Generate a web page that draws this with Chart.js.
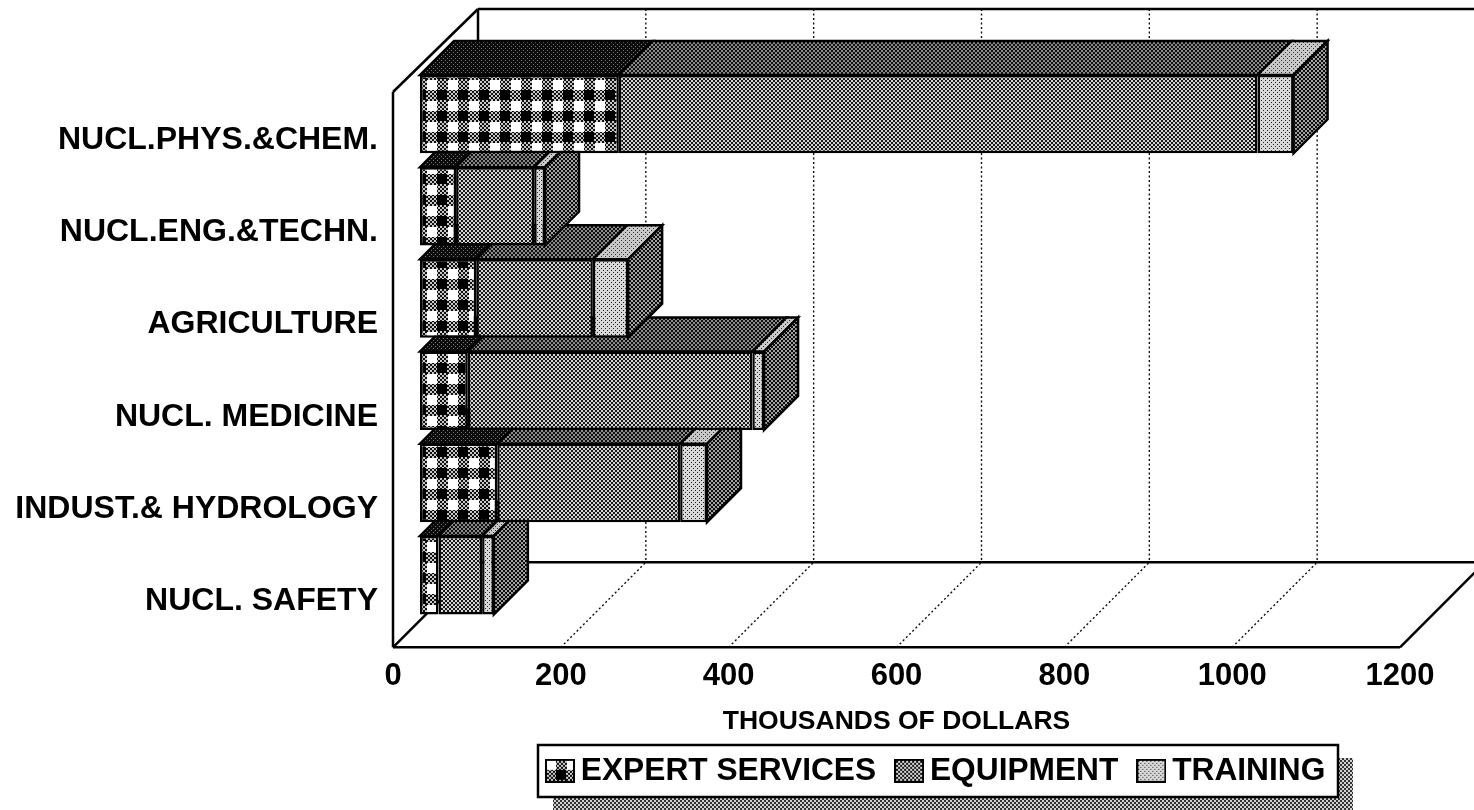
<!DOCTYPE html>
<html>
<head>
<meta charset="utf-8">
<title>Expert services, equipment and training</title>
<script src="https://cdn.jsdelivr.net/npm/chart.js@4"></script>
<style>
  html, body { margin: 0; padding: 0; background: #fff; }
  canvas { display: block; }
</style>
</head>
<body>
<canvas id="chart" width="1474" height="810"></canvas>
<script>
// values, thousands of dollars
const categories = ['NUCL.PHYS.&CHEM.', 'NUCL.ENG.&TECHN.', 'AGRICULTURE', 'NUCL. MEDICINE', 'INDUST.& HYDROLOGY', 'NUCL. SAFETY'];
const expertServices = [237, 43, 67, 57, 92, 22];
const equipment = [761, 93, 139, 339, 218, 52];
const training = [43, 13, 42, 14, 32, 14];
const seriesNames = ['EXPERT SERVICES', 'EQUIPMENT', 'TRAINING'];
const xTickValues = [0, 200, 400, 600, 800, 1000, 1200];
const xTitle = 'THOUSANDS OF DOLLARS';

const FONT = '"Liberation Sans", Arial, sans-serif';
const WALL_DEPTH = 85;   // floor/wall depth of the box
const BAR_SHIFT_X = 27;  // bars stand this far into the box
const BAR_SHIFT_Y = 26;
const BAR_DEPTH = 34;

// small bitmap tile -> canvas
function tile(size, bg, fg, dot, stagger) {
  const c = document.createElement('canvas');
  c.width = c.height = size;
  const g = c.getContext('2d');
  g.fillStyle = bg;
  g.fillRect(0, 0, size, size);
  g.fillStyle = fg;
  g.fillRect(0, 0, dot, dot);
  if (stagger) g.fillRect(size / 2, size / 2, dot, dot);
  return c;
}

// gingham: white / dither / black squares
function ginghamTile() {
  const c = document.createElement('canvas');
  c.width = c.height = 21;
  const g = c.getContext('2d');
  const dither = g.createPattern(tile(4, '#c8c8c8', '#101010', 2, true), 'repeat');
  g.fillStyle = dither;
  g.fillRect(0, 0, 21, 21);
  g.fillStyle = '#fff';
  g.fillRect(1, 1, 10, 10);
  g.fillStyle = '#000';
  g.fillRect(11, 11, 10, 10);
  return c;
}

const ctx0 = document.getElementById('chart').getContext('2d');
const pat = t => ctx0.createPattern(t, 'repeat');

const frontFills = [
  pat(ginghamTile()),
  pat(tile(4, '#d4d4d4', '#181818', 2, true)),
  pat(tile(4, '#d8d8d8', '#222', 1, true))
];
const topFills = [
  pat(tile(4, '#0c0c0c', '#777', 1, true)),
  pat(tile(4, '#8a8a8a', '#111', 2, true)),
  pat(tile(4, '#c8c8c8', '#333', 1, true))
];
const sideFill = pat(tile(4, '#a0a0a0', '#0c0c0c', 2, true));
const shadowFill = pat(tile(4, '#d0d0d0', '#333', 2, true));

function swatch(fill) {
  const c = document.createElement('canvas');
  c.width = 30; c.height = 24;
  const g = c.getContext('2d');
  g.fillStyle = fill;
  g.fillRect(0, 0, 30, 24);
  g.lineWidth = 2;
  g.strokeStyle = '#000';
  g.strokeRect(1, 1, 28, 22);
  return c;
}
const legendSwatches = frontFills.map(swatch);

function poly(ctx, pts, fill) {
  ctx.beginPath();
  pts.forEach((p, i) => i ? ctx.lineTo(p[0], p[1]) : ctx.moveTo(p[0], p[1]));
  ctx.closePath();
  ctx.fillStyle = fill;
  ctx.fill();
  ctx.stroke();
}

function line(ctx, x1, y1, x2, y2) {
  ctx.beginPath();
  ctx.moveTo(x1, y1);
  ctx.lineTo(x2, y2);
  ctx.stroke();
}

// the open 3D box behind the bars, from the scale positions
const boxPlugin = {
  id: 'box3d',
  beforeDraw(chart) {
    const { ctx, chartArea: a, scales: { x } } = chart;
    const d = WALL_DEPTH;
    ctx.save();
    ctx.fillStyle = '#fff';
    ctx.fillRect(0, 0, chart.width, chart.height);

    // legend frame and its shadow
    ctx.fillStyle = shadowFill;
    ctx.fillRect(553, 758, 800, 52);
    ctx.fillStyle = '#fff';
    ctx.fillRect(538, 745, 800, 52);
    ctx.strokeStyle = '#000';
    ctx.lineWidth = 2.5;
    ctx.strokeRect(538, 745, 800, 52);

    // dotted grid: back wall and floor
    ctx.lineWidth = 1.4;
    ctx.setLineDash([2, 2.5]);
    ctx.strokeStyle = '#111';
    xTickValues.slice(1).forEach(v => {
      const px = x.getPixelForValue(v);
      line(ctx, px + d, a.top - d, px + d, a.bottom - d);
      if (v < xTickValues[xTickValues.length - 1]) line(ctx, px, a.bottom, px + d, a.bottom - d);
    });
    ctx.setLineDash([]);

    // solid edges
    ctx.strokeStyle = '#000';
    ctx.lineWidth = 2.5;
    line(ctx, a.left, a.bottom, a.left, a.top - 2);
    line(ctx, a.left, a.top - 2, a.left + d, a.top - d);
    line(ctx, a.left + d, a.top - d, a.right + d, a.top - d);
    line(ctx, a.left + d, a.top - d, a.left + d, a.bottom - d);
    line(ctx, a.left + d, a.bottom - d, a.right + d, a.bottom - d);
    line(ctx, a.left, a.bottom, a.left + d, a.bottom - d);
    line(ctx, a.left, a.bottom, a.right, a.bottom);
    line(ctx, a.right, a.bottom, a.right + d, a.bottom - d);
    ctx.restore();
  },
  beforeDatasetsDraw(chart) {
    const ctx = chart.ctx, d = BAR_DEPTH;
    ctx.save();
    ctx.translate(BAR_SHIFT_X, -BAR_SHIFT_Y);
    ctx.strokeStyle = '#000';
    ctx.lineWidth = 2.5;
    // bottom bar first, so the upper bars sit in front of it
    for (let j = categories.length - 1; j >= 0; j--) {
      const metas = chart.data.datasets.map((_, i) => chart.getDatasetMeta(i).data[j]);
      metas.forEach((bar, i) => {
        const top = bar.y - bar.height / 2;
        poly(ctx, [[bar.base, top], [bar.x, top], [bar.x + d, top - d], [bar.base + d, top - d]], topFills[i]);
      });
      const last = metas[metas.length - 1];
      const t = last.y - last.height / 2, b = last.y + last.height / 2;
      poly(ctx, [[last.x, t], [last.x + d, t - d], [last.x + d, b - d], [last.x, b]], sideFill);
    }
  },
  afterDatasetsDraw(chart) {
    chart.ctx.restore();
  },
  afterLayout(chart) {
    // legend sits right of centre under the axis
    const l = chart.legend, h = l.height, w = l.width;
    l.left = 527;
    l.right = 527 + w;
    l.top = 727;
    l.bottom = 727 + h;
  }
};

new Chart(ctx0, {
  type: 'bar',
  data: {
    labels: categories,
    datasets: [
      { label: seriesNames[0], data: expertServices, backgroundColor: frontFills[0] },
      { label: seriesNames[1], data: equipment, backgroundColor: frontFills[1] },
      { label: seriesNames[2], data: training, backgroundColor: frontFills[2] }
    ].map(ds => ({ ...ds, borderColor: '#000', borderWidth: 2.5, borderSkipped: false, barPercentage: 0.85, categoryPercentage: 1, clip: false }))
  },
  options: {
    indexAxis: 'y',
    responsive: false,
    animation: false,
    layout: { padding: { top: 94, right: 74, left: 0, bottom: 3 } },
    scales: {
      x: {
        stacked: true,
        min: 0,
        max: 1200,
        grid: { display: false },
        border: { display: false },
        ticks: { stepSize: 200, maxRotation: 0, autoSkip: false, padding: 3, color: '#000', font: { family: FONT, size: 31, weight: 'bold' }, callback: v => String(v) },
        title: { display: true, text: xTitle, color: '#000', padding: { top: 0, bottom: 0 }, font: { family: FONT, size: 26.5, weight: 'bold' } },
        afterFit(s) { s.height = 90; }
      },
      y: {
        stacked: true,
        grid: { display: false },
        border: { display: false },
        ticks: { padding: 7, autoSkip: false, color: '#000', font: { family: FONT, size: 32, weight: 'bold' } },
        afterFit(s) { s.width = 393; }
      }
    },
    plugins: {
      tooltip: { enabled: false },
      legend: {
        position: 'bottom',
        align: 'start',
        labels: {
          usePointStyle: true,
          boxWidth: 10,
          boxHeight: 10,
          padding: 28,
          color: '#000',
          font: { family: FONT, size: 31.7, weight: 'bold' },
          generateLabels(chart) {
            return Chart.defaults.plugins.legend.labels.generateLabels(chart)
              .map((it, i) => ({ ...it, pointStyle: legendSwatches[i] }));
          }
        }
      }
    }
  },
  plugins: [boxPlugin]
});
</script>
</body>
</html>
